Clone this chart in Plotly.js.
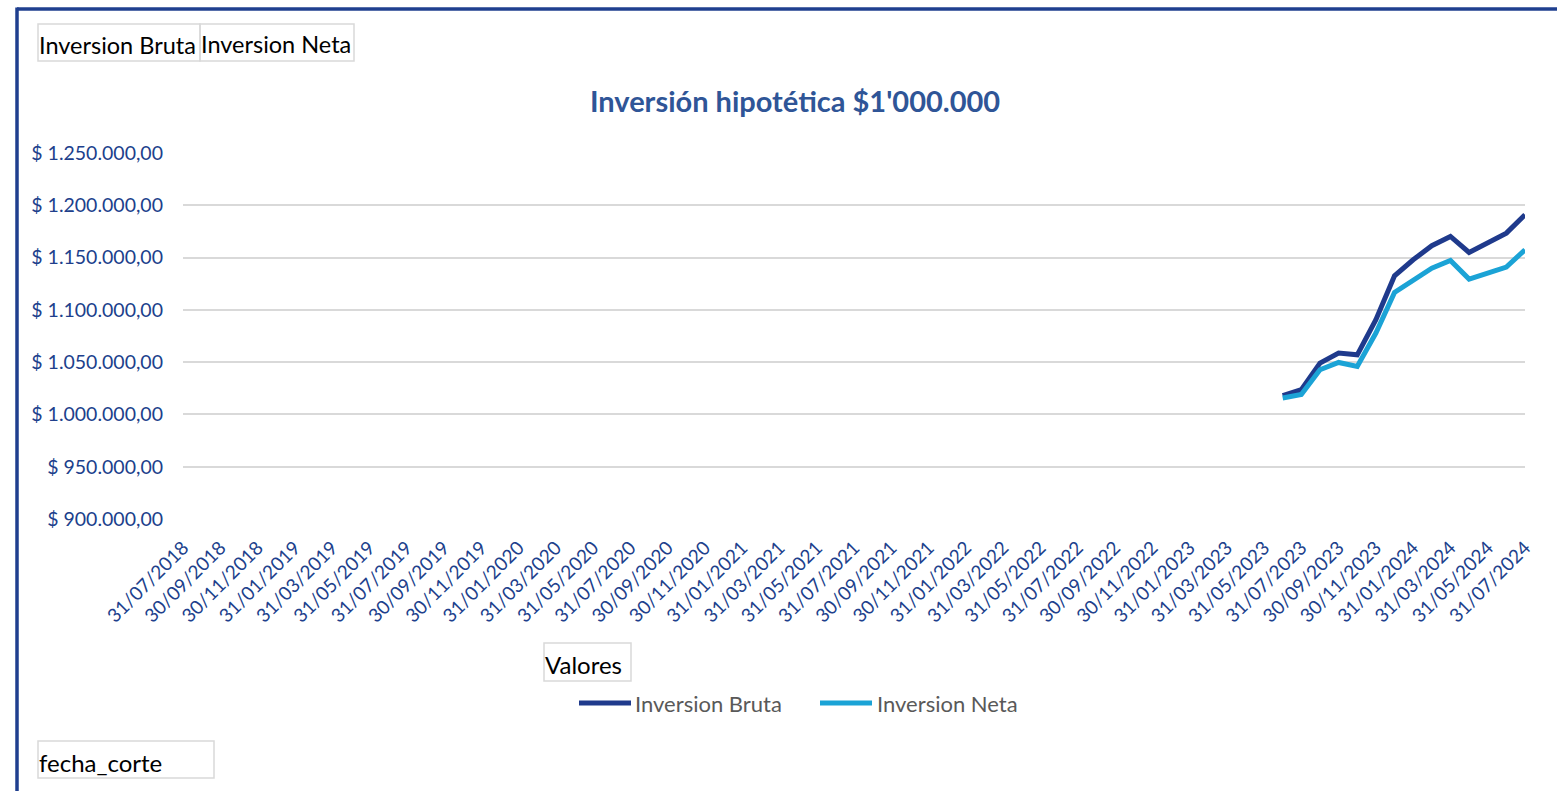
<!DOCTYPE html>
<html>
<head>
<meta charset="utf-8">
<script src="https://cdn.plot.ly/plotly-3.0.1.min.js"></script>
<style>html,body{margin:0;padding:0;background:#fff;}#chart{width:1557px;height:791px;}</style>
</head>
<body>
<div id="chart"></div>
<script>
// Category axis: month-end dates
const allDates = [
"31/07/2018","31/08/2018","30/09/2018","31/10/2018","30/11/2018","31/12/2018",
"31/01/2019","28/02/2019","31/03/2019","30/04/2019","31/05/2019","30/06/2019","31/07/2019","31/08/2019","30/09/2019","31/10/2019","30/11/2019","31/12/2019",
"31/01/2020","29/02/2020","31/03/2020","30/04/2020","31/05/2020","30/06/2020","31/07/2020","31/08/2020","30/09/2020","31/10/2020","30/11/2020","31/12/2020",
"31/01/2021","28/02/2021","31/03/2021","30/04/2021","31/05/2021","30/06/2021","31/07/2021","31/08/2021","30/09/2021","31/10/2021","30/11/2021","31/12/2021",
"31/01/2022","28/02/2022","31/03/2022","30/04/2022","31/05/2022","30/06/2022","31/07/2022","31/08/2022","30/09/2022","31/10/2022","30/11/2022","31/12/2022",
"31/01/2023","28/02/2023","31/03/2023","30/04/2023","31/05/2023","30/06/2023","31/07/2023","31/08/2023","30/09/2023","31/10/2023","30/11/2023","31/12/2023",
"31/01/2024","29/02/2024","31/03/2024","30/04/2024","31/05/2024","30/06/2024","31/07/2024"
];
const tickLabels = [
"31/07/2018","30/09/2018","30/11/2018","31/01/2019","31/03/2019","31/05/2019","31/07/2019","30/09/2019","30/11/2019",
"31/01/2020","31/03/2020","31/05/2020","31/07/2020","30/09/2020","30/11/2020",
"31/01/2021","31/03/2021","31/05/2021","31/07/2021","30/09/2021","30/11/2021",
"31/01/2022","31/03/2022","31/05/2022","31/07/2022","30/09/2022","30/11/2022",
"31/01/2023","31/03/2023","31/05/2023","31/07/2023","30/09/2023","30/11/2023",
"31/01/2024","31/03/2024","31/05/2024","31/07/2024"
];
// Data points
const dataDates = ["30/06/2023","31/07/2023","31/08/2023","30/09/2023","31/10/2023","30/11/2023","31/12/2023","31/01/2024","29/02/2024","31/03/2024","30/04/2024","31/05/2024","30/06/2024","31/07/2024"];
const inversionBruta = [1017900,1023600,1049100,1058700,1057000,1090500,1132600,1147900,1161300,1170200,1154900,1163900,1173400,1190900];
const inversionNeta  = [1015700,1019100,1042700,1049700,1045900,1077800,1116600,1128800,1139900,1147200,1129400,1135100,1140900,1157500];
const seriesNames = ["Inversion Bruta","Inversion Neta"];
const yTicks = [900000,950000,1000000,1050000,1100000,1150000,1200000,1250000];
const yTickLabels = ["$ 900.000,00","$ 950.000,00","$ 1.000.000,00","$ 1.050.000,00","$ 1.100.000,00","$ 1.150.000,00","$ 1.200.000,00","$ 1.250.000,00"];

const FONT = "Lato, 'Liberation Sans', sans-serif";
const C_BRUTA = "#1f3a8c", C_NETA = "#1ba3d6", C_TXT = "#203f8c";

// plot-area pixel frame, used to place decorations in paper coords
const L = 183, R = 1525, T = 153, B = 519;
const px = x => (x - L) / (R - L);
const py = y => (B - y) / (B - T);

const traces = [
  {x: dataDates, y: inversionBruta, name: seriesNames[0], type: "scatter", mode: "lines",
   line: {color: C_BRUTA, width: 5}, showlegend: false},
  {x: dataDates, y: inversionNeta, name: seriesNames[1], type: "scatter", mode: "lines",
   line: {color: C_NETA, width: 5}, showlegend: false}
];

function box(x0, y0, x1, y1) {
  return {type: "rect", xref: "paper", yref: "paper", x0: px(x0), x1: px(x1), y0: py(y1), y1: py(y0),
          line: {color: "#d9d9d9", width: 1.5}, fillcolor: "rgba(0,0,0,0)", layer: "above"};
}
function label(text, x, y, size, color) {
  return {text: text, xref: "paper", yref: "paper", x: px(x), y: py(y), xanchor: "left", yanchor: "middle",
          showarrow: false, font: {family: FONT, size: size, color: color}};
}

const shapes = [
  // outer frame (left and top)
  {type: "line", xref: "paper", yref: "paper", x0: px(17), x1: px(1570), y0: py(9), y1: py(9), line: {color: "#1f3f8f", width: 3.5}},
  {type: "line", xref: "paper", yref: "paper", x0: px(17), x1: px(17), y0: py(7.5), y1: py(800), line: {color: "#1f3f8f", width: 3.5}},
  box(38, 24, 200, 61), box(200, 24, 354, 61), box(544, 643, 631, 681), box(38, 741, 214, 778),
  // legend lines
  {type: "line", xref: "paper", yref: "paper", x0: px(579), x1: px(631), y0: py(703), y1: py(703), line: {color: C_BRUTA, width: 5}},
  {type: "line", xref: "paper", yref: "paper", x0: px(820), x1: px(872), y0: py(703), y1: py(703), line: {color: C_NETA, width: 5}}
];

const annotations = [
  label(seriesNames[0], 37, 45, 23.5, "#000"),
  label(seriesNames[1], 199, 44, 23.5, "#000"),
  label("Valores", 543, 664, 24, "#000"),
  label("fecha_corte", 37, 762, 24, "#000"),
  label(seriesNames[0], 633, 703, 22, "#595959"),
  label(seriesNames[1], 875, 703, 22, "#595959")
];

const layout = {
  width: 1557, height: 791,
  margin: {l: L, r: 1557 - R, t: T, b: 791 - B, pad: 0},
  paper_bgcolor: "#fff", plot_bgcolor: "#fff",
  separators: ",.",
  title: {text: "<b>Inversión hipotética $1'000.000</b>", x: 795/1557, xref: "container", xanchor: "center",
          y: 1 - 102/791, yanchor: "middle", font: {family: FONT, size: 29, color: "#2f5597"}},
  font: {family: FONT},
  xaxis: {type: "category", categoryorder: "array", categoryarray: allDates, range: [0, allDates.length - 1],
          tickmode: "array", tickvals: tickLabels, ticktext: tickLabels, tickangle: -45,
          showgrid: false, zeroline: false, showline: false, ticks: "",
          tickfont: {family: FONT, size: 19, color: C_TXT}, ticklabelstandoff: 13},
  yaxis: {range: [900000, 1250000], tickmode: "array", tickvals: yTicks, ticktext: yTickLabels,
          showgrid: true, gridcolor: "#d9d9d9", gridwidth: 1.5, zeroline: false, showline: false, ticks: "",
          tickfont: {family: FONT, size: 19.5, color: C_TXT}, ticklabelstandoff: 19},
  showlegend: false,
  shapes: shapes,
  annotations: annotations
};

Plotly.newPlot("chart", traces, layout, {displayModeBar: false, responsive: false});
</script>
</body>
</html>
